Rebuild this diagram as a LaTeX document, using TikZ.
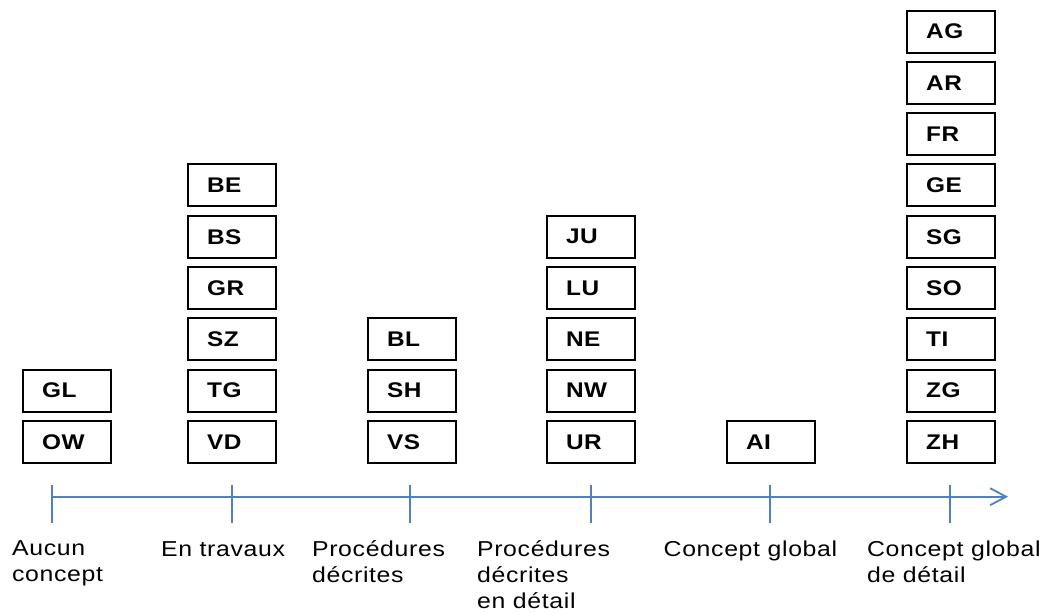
\documentclass[tikz,border=0pt]{standalone}
\usepackage{fontspec}
\setmainfont{Liberation Sans}
\newfontfamily\fuenteEspaciada[LetterSpace=3, FakeStretch=1.15]{Liberation Sans}
\usetikzlibrary{arrows.meta, positioning}
\definecolor{azuloffice}{HTML}{4F81BD}
\colorlet{colEje}{azuloffice}
\colorlet{colBorde}{black}
\tikzset{
  cajaCanton/.style={
    draw=colBorde, line width=1pt,
    minimum height=21pt, text width=25pt, inner xsep=9.5pt, inner ysep=0pt,
    align=left, font=\fuenteEspaciada\bfseries\fontsize{10.6}{12}\selectfont
  },
  etiquetaEje/.style={
    anchor=base west, inner sep=0pt, align=left,
    font=\fuenteEspaciada\fontsize{10.8}{13}\selectfont
  },
  flechaEje/.style={-{Straight Barb[length=8pt, width=8.5pt]}, line width=0.9pt, colEje},
  marcaEje/.style={line width=0.9pt, colEje},
}
\begin{document}
\begin{tikzpicture}[x=0.5pt, y=-0.5pt, node distance=3.65pt]
  \useasboundingbox (0,0) rectangle (1048,614);
  % aucun concept
  \node[cajaCanton] (ow) at (67,442) {OW};
  \node[cajaCanton, above=of ow] (gl) {GL};
  % en travaux
  \node[cajaCanton] (vd) at (232,442) {VD};
  \node[cajaCanton, above=of vd] (tg) {TG};
  \node[cajaCanton, above=of tg] (sz) {SZ};
  \node[cajaCanton, above=of sz] (gr) {GR};
  \node[cajaCanton, above=of gr] (bs) {BS};
  \node[cajaCanton, above=of bs] (be) {BE};
  % procedures decrites
  \node[cajaCanton] (vs) at (412,442) {VS};
  \node[cajaCanton, above=of vs] (sh) {SH};
  \node[cajaCanton, above=of sh] (bl) {BL};
  % procedures decrites en detail
  \node[cajaCanton] (ur) at (591,442) {UR};
  \node[cajaCanton, above=of ur] (nw) {NW};
  \node[cajaCanton, above=of nw] (ne) {NE};
  \node[cajaCanton, above=of ne] (lu) {LU};
  \node[cajaCanton, above=of lu] (ju) {JU};
  % concept global
  \node[cajaCanton] (ai) at (771,442) {AI};
  % concept global de detail
  \node[cajaCanton] (zh) at (951,442) {ZH};
  \node[cajaCanton, above=of zh] (zg) {ZG};
  \node[cajaCanton, above=of zg] (ti) {TI};
  \node[cajaCanton, above=of ti] (so) {SO};
  \node[cajaCanton, above=of so] (sg) {SG};
  \node[cajaCanton, above=of sg] (ge) {GE};
  \node[cajaCanton, above=of ge] (fr) {FR};
  \node[cajaCanton, above=of fr] (ar) {AR};
  \node[cajaCanton, above=of ar] (ag) {AG};

  % eje
  \coordinate (ejeIni) at (51.7,496.7);
  \coordinate (ejeFin) at (1008,496.7);
  \draw[flechaEje] (ejeIni) -- (ejeFin);
  \foreach \x in {51.7, 231.7, 410, 591, 770, 950}
    \draw[marcaEje] (\x,485) -- (\x,523);

  % etiquetas (base = ultima linea)
  \node[etiquetaEje] (etqAucun) at (11.7,581) {Aucun\\concept};
  \node[etiquetaEje] (etqTravaux) at (160.7,556) {En travaux};
  \node[etiquetaEje] (etqProc) at (311.7,582) {Procédures\\décrites};
  \node[etiquetaEje] (etqProcDet) at (476.7,608) {Procédures\\décrites\\en détail};
  \node[etiquetaEje] (etqGlobal) at (663.3,556) {Concept global};
  \node[etiquetaEje] (etqGlobalDet) at (866.7,582) {Concept global\\de détail};
\end{tikzpicture}
\end{document}
